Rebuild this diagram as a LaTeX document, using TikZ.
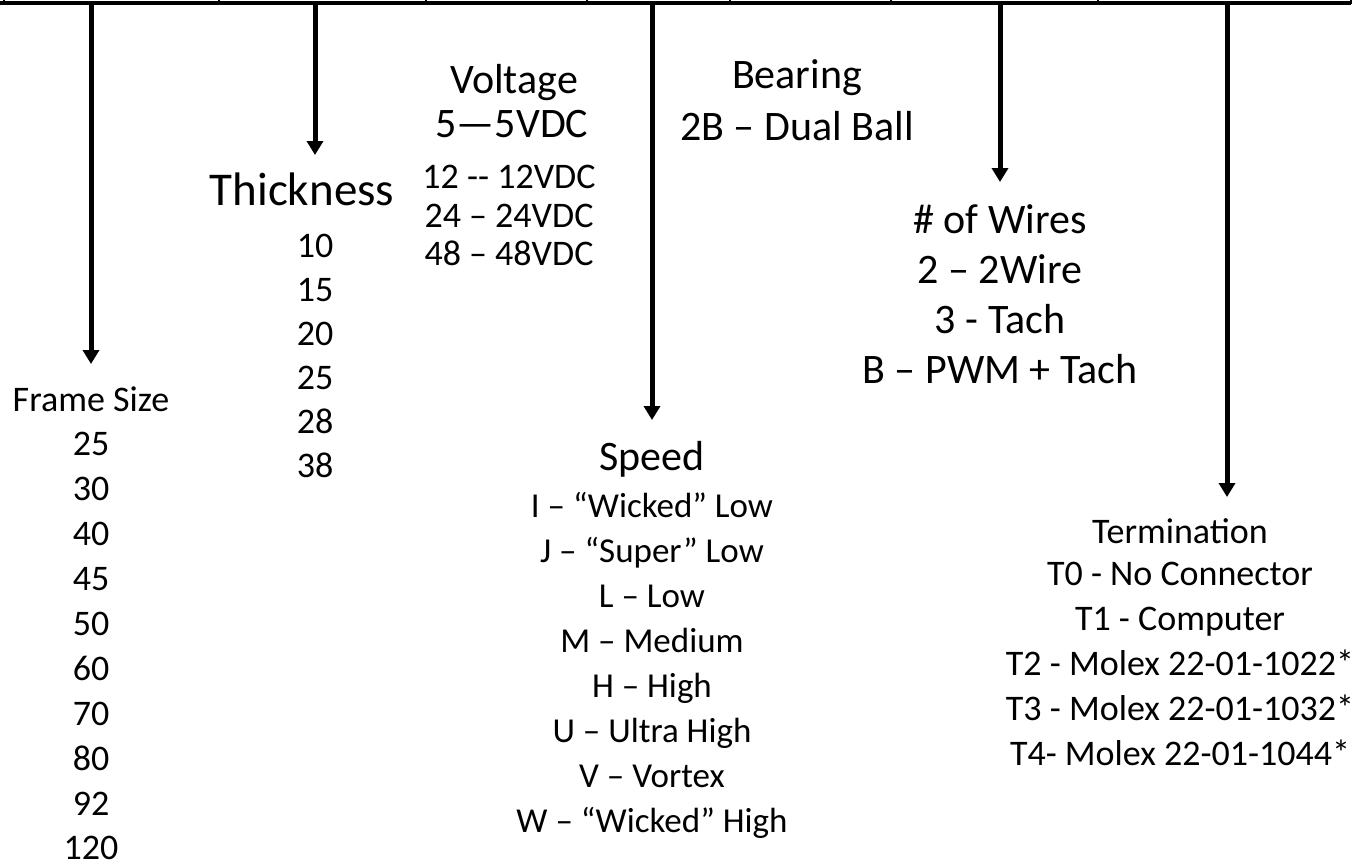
\documentclass[tikz,border=0pt]{standalone}
\usepackage{fontspec}
\setmainfont{Carlito}
\usepackage{tikz}
\usetikzlibrary{arrows.meta,positioning}

\tikzset{
  pointer/.style={line width=5pt,-{Triangle[width=16pt,length=14pt]}},
  rule/.style={line width=3.5pt},
  cellrule/.style={line width=1.5pt},
  lbl/.style={anchor=base,inner sep=0pt,text depth=0pt},
  big/.style={lbl,font=\fontsize{42}{0}\selectfont},
  huge/.style={lbl,font=\fontsize{47}{0}\selectfont},
  num/.style={lbl,font=\fontsize{36}{0}\selectfont},
  opt/.style={lbl,font=\fontsize{35}{0}\selectfont},
}

\begin{document}
\begin{tikzpicture}[x=1pt,y=-1pt]
\useasboundingbox (0,0) rectangle (1372,863);

% bottom edge of the part number table
\draw[rule] (0,3) -- (1351,3);
\draw[cellrule] (4,0) -- (4,3);
\draw[cellrule] (219,0) -- (219,3);
\draw[cellrule] (426,0) -- (426,3);
\draw[cellrule] (587,0) -- (587,3);
\draw[cellrule] (730,0) -- (730,3);
\draw[cellrule] (891,0) -- (891,3);
\draw[cellrule] (1098,0) -- (1098,3);
\draw[cellrule] (1351,0) -- (1351,4);

% arrow ends
\coordinate (frametop) at (91,3);
\coordinate (frametip) at (91,364);
\coordinate (thicktop) at (315,3);
\coordinate (thicktip) at (315,155);
\coordinate (speedtop) at (652,3);
\coordinate (speedtip) at (652,420);
\coordinate (wirestop) at (1000,3);
\coordinate (wirestip) at (1000,182);
\coordinate (termtop) at (1227,3);
\coordinate (termtip) at (1227,497);

\draw[pointer] (frametop) -- (frametip);
\draw[pointer] (thicktop) -- (thicktip);
\draw[pointer] (speedtop) -- (speedtip);
\draw[pointer] (wirestop) -- (wirestip);
\draw[pointer] (termtop) -- (termtip);

% frame size
\node[num] (frame) at (91,411) {Frame Size};
\node[num] (f25) at (91,455) {25};
\node[num] (f30) at (91,500) {30};
\node[num] (f40) at (91,545) {40};
\node[num] (f45) at (91,590) {45};
\node[num] (f50) at (91,635) {50};
\node[num] (f60) at (91,680) {60};
\node[num] (f70) at (91,725) {70};
\node[num] (f80) at (91,770) {80};
\node[num] (f92) at (91,815) {92};
\node[num] (f120) at (91,859) {120};

% thickness
\node[huge] (thick) at (302,205) {Thickness};
\node[num] (t10) at (315,257) {10};
\node[num] (t15) at (315,301) {15};
\node[num] (t20) at (315,345) {20};
\node[num] (t25) at (315,389) {25};
\node[num] (t28) at (315,433) {28};
\node[num] (t38) at (315,477) {38};

% voltage
\node[big] (volt) at (514,93) {Voltage};
\node[big] (v5) at (512,137) {5—5VDC};
\node[num] (v12) at (509,188) {12 -{}- 12VDC};
\node[num] (v24) at (509,227) {24 – 24VDC};
\node[num] (v48) at (509,265) {48 – 48VDC};

% bearing
\node[big] (bear) at (797,88) {Bearing};
\node[big] (b2b) at (797,140) {2B – Dual Ball};

% wires
\node[big] (wires) at (1000,233) {\# of Wires};
\node[big] (w2) at (1000,283) {2 – 2Wire};
\node[big] (w3) at (1000,333) {3 - Tach};
\node[big] (wb) at (1000,383) {B – PWM + Tach};

% speed
\node[big] (speed) at (652,470) {Speed};
\node[opt] (sI) at (652,517) {I – “Wicked” Low};
\node[opt] (sJ) at (652,562) {J – “Super” Low};
\node[opt] (sL) at (652,607) {L – Low};
\node[opt] (sM) at (652,652) {M – Medium};
\node[opt] (sH) at (652,697) {H – High};
\node[opt] (sU) at (652,742) {U – Ultra High};
\node[opt] (sV) at (652,787) {V – Vortex};
\node[opt] (sW) at (652,832) {W – “Wicked” High};

% termination
\node[num] (term) at (1180,543) {Termination};
\node[num] (c0) at (1180,585) {T0 - No Connector};
\node[num] (c1) at (1180,630) {T1 - Computer};
\node[num] (c2) at (1180,675) {T2 - Molex 22-01-1022*};
\node[num] (c3) at (1180,720) {T3 - Molex 22-01-1032*};
\node[num] (c4) at (1180,765) {T4- Molex 22-01-1044*};
\end{tikzpicture}
\end{document}
